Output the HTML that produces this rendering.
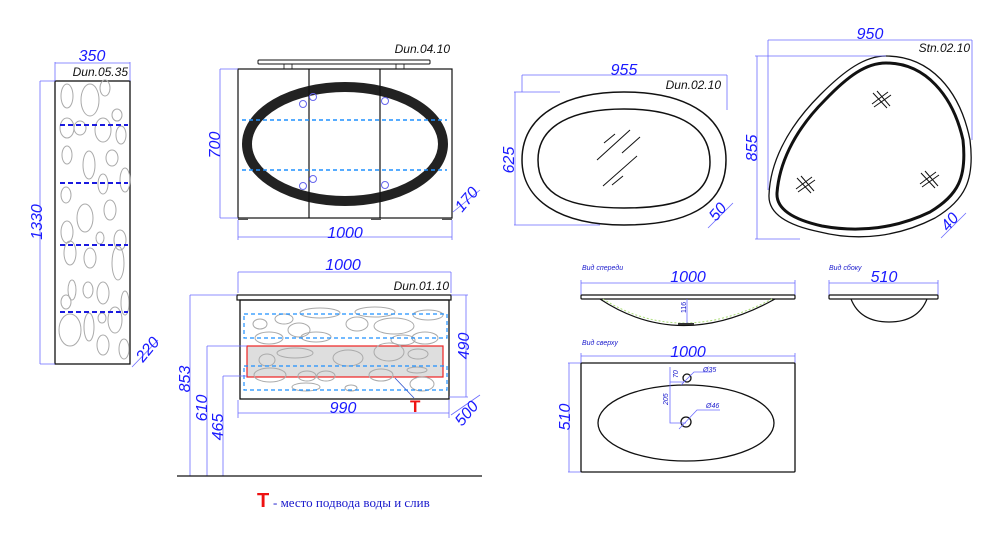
<!DOCTYPE html>
<html><head><meta charset="utf-8"><style>
body{margin:0;background:#fff}
svg{display:block}
text{font-family:"Liberation Sans",sans-serif;font-style:italic}
.d{fill:#1a1aff;font-size:16px}
.dim{stroke:#6b6bff;stroke-width:0.8;fill:none}
.k{stroke:#111;fill:none}
.lab{font-size:12px;fill:#111}
.bub{stroke:#aaa;fill:none;stroke-width:1}
</style></head><body>
<svg width="1000" height="537" viewBox="0 0 1000 537" xmlns="http://www.w3.org/2000/svg">
<!-- Tall cabinet -->
<g>
<rect x="55" y="81" width="75" height="283" class="k" stroke-width="1.3"/>
<g class="bub">
<ellipse cx="67" cy="96" rx="6" ry="12"/><ellipse cx="90" cy="100" rx="9" ry="16"/><ellipse cx="105" cy="88" rx="5" ry="8"/>
<ellipse cx="67" cy="128" rx="7" ry="10"/><ellipse cx="80" cy="128" rx="6" ry="7"/><ellipse cx="103" cy="130" rx="8" ry="12"/><ellipse cx="117" cy="115" rx="5" ry="6"/><ellipse cx="121" cy="135" rx="5" ry="9"/>
<ellipse cx="67" cy="155" rx="5" ry="9"/><ellipse cx="89" cy="165" rx="6" ry="14"/><ellipse cx="112" cy="158" rx="6" ry="8"/><ellipse cx="125" cy="180" rx="5" ry="12"/><ellipse cx="103" cy="184" rx="5" ry="10"/>
<ellipse cx="66" cy="195" rx="5" ry="8"/><ellipse cx="85" cy="218" rx="8" ry="14"/><ellipse cx="110" cy="210" rx="6" ry="10"/><ellipse cx="67" cy="232" rx="6" ry="11"/><ellipse cx="100" cy="238" rx="4" ry="6"/><ellipse cx="120" cy="240" rx="6" ry="10"/>
<ellipse cx="70" cy="253" rx="6" ry="12"/><ellipse cx="90" cy="258" rx="6" ry="10"/><ellipse cx="118" cy="263" rx="6" ry="17"/>
<ellipse cx="72" cy="290" rx="4" ry="10"/><ellipse cx="88" cy="290" rx="5" ry="8"/><ellipse cx="103" cy="293" rx="6" ry="11"/><ellipse cx="125" cy="303" rx="4" ry="12"/>
<ellipse cx="66" cy="302" rx="5" ry="7"/><ellipse cx="70" cy="330" rx="11" ry="16"/><ellipse cx="89" cy="327" rx="5" ry="14"/><ellipse cx="102" cy="318" rx="4" ry="5"/><ellipse cx="115" cy="320" rx="7" ry="13"/><ellipse cx="103" cy="345" rx="6" ry="10"/><ellipse cx="124" cy="349" rx="5" ry="10"/>
</g>
<g stroke="#1a1adf" stroke-width="2" stroke-dasharray="5,3">
<line x1="60" y1="125" x2="128" y2="125"/><line x1="60" y1="183" x2="128" y2="183"/><line x1="60" y1="245" x2="128" y2="245"/><line x1="60" y1="312" x2="128" y2="312"/>
</g>
<path class="dim" d="M55 62V81M130 62V81M55 63H130M40 81H55M40 364H55M40 81V364"/>
<text class="d" x="92" y="61" text-anchor="middle">350</text>
<text class="lab" x="128" y="76" text-anchor="end">Dun.05.35</text>
<text class="d" transform="translate(42,222) rotate(-90)" text-anchor="middle">1330</text>
<line x1="132" y1="367" x2="158" y2="340" class="dim"/>
<text class="d" transform="translate(143,363) rotate(-50)">220</text>
</g>
<!-- Mirror cabinet -->
<g>
<rect x="258" y="60" width="172" height="4" class="k" stroke-width="1" rx="1"/>
<rect x="284" y="64" width="8" height="5" class="k" stroke-width="0.8"/><rect x="396" y="64" width="8" height="5" class="k" stroke-width="0.8"/>
<rect x="238" y="69" width="214" height="149" class="k" stroke-width="1.2"/>
<ellipse cx="345" cy="144" rx="98" ry="57" fill="none" stroke="#222" stroke-width="10"/>
<line x1="309" y1="69" x2="309" y2="218" class="k" stroke-width="1.2"/><line x1="380" y1="69" x2="380" y2="218" class="k" stroke-width="1.2"/>
<g stroke="#1e90ff" stroke-width="1.5" stroke-dasharray="4,3"><line x1="242" y1="120" x2="447" y2="120"/><line x1="242" y1="170" x2="447" y2="170"/></g>
<g fill="none" stroke="#6666ee"><circle cx="303" cy="104" r="3.5"/><circle cx="313" cy="97" r="3.5"/><circle cx="385" cy="101" r="3.5"/><circle cx="303" cy="186" r="3.5"/><circle cx="313" cy="179" r="3.5"/><circle cx="385" cy="185" r="3.5"/></g>
<g fill="#555"><rect x="238" y="218" width="10" height="2"/><rect x="371" y="218" width="10" height="2"/><rect x="442" y="218" width="10" height="2"/></g>
<path class="dim" d="M220 69H238M220 218H238M220 69V218M238 220V240M452 220V240M238 237H452"/>
<text class="d" transform="translate(220,145) rotate(-90)" text-anchor="middle">700</text>
<text class="d" x="345" y="238" text-anchor="middle">1000</text>
<text class="lab" x="450" y="53" text-anchor="end">Dun.04.10</text>
<line x1="453" y1="212" x2="480" y2="190" class="dim"/>
<text class="d" transform="translate(462,213) rotate(-50)">170</text>
</g>
<!-- Vanity -->
<g>
<rect x="237" y="295" width="214" height="5" class="k" stroke-width="1.2"/>
<rect x="240" y="300" width="209" height="99" class="k" stroke-width="1.3"/>
<rect x="247" y="346" width="196" height="31" fill="#dedede" stroke="#ee2222" stroke-width="1.2"/>
<g class="bub">
<ellipse cx="260" cy="324" rx="7" ry="5"/><ellipse cx="269" cy="338" rx="14" ry="6"/><ellipse cx="284" cy="319" rx="9" ry="5"/><ellipse cx="299" cy="330" rx="11" ry="7"/><ellipse cx="316" cy="337" rx="15" ry="5"/><ellipse cx="320" cy="313" rx="20" ry="5"/><ellipse cx="357" cy="324" rx="11" ry="7"/><ellipse cx="375" cy="312" rx="20" ry="5"/><ellipse cx="394" cy="326" rx="20" ry="8"/><ellipse cx="403" cy="340" rx="12" ry="5"/><ellipse cx="428" cy="315" rx="15" ry="5"/><ellipse cx="425" cy="338" rx="13" ry="6"/>
<ellipse cx="267" cy="360" rx="8" ry="6"/><ellipse cx="295" cy="353" rx="18" ry="5"/><ellipse cx="348" cy="358" rx="15" ry="8"/><ellipse cx="389" cy="352" rx="15" ry="9"/><ellipse cx="418" cy="354" rx="10" ry="5"/>
<ellipse cx="270" cy="375" rx="16" ry="7"/><ellipse cx="307" cy="376" rx="9" ry="5"/><ellipse cx="326" cy="376" rx="9" ry="5"/><ellipse cx="381" cy="375" rx="12" ry="6"/><ellipse cx="417" cy="370" rx="10" ry="3"/><ellipse cx="306" cy="387" rx="14" ry="4"/><ellipse cx="351" cy="388" rx="6" ry="3"/><ellipse cx="422" cy="384" rx="12" ry="7"/>
</g>
<g fill="none" stroke="#1e90ff" stroke-width="1.2" stroke-dasharray="4,3"><rect x="244" y="314" width="203" height="24"/><rect x="244" y="366" width="203" height="24"/></g>
<line x1="395" y1="378" x2="414" y2="398" stroke="#3355cc" stroke-width="0.8"/>
<text x="410" y="412" fill="#ee1111" style="font-style:normal;font-weight:bold;font-size:17px">T</text>
<path class="dim" d="M238 272H451M238 272V293M451 272V293M451 295H468M449 397H468M466 295V397M238 400V418M449 400V418M238 413H449M451 415L480 395"/>
<path class="dim" d="M190 295H237M190 295V476M207 346H247M207 346V476M223 376H247M223 376V476"/>
<line x1="177" y1="476" x2="482" y2="476" stroke="#111" stroke-width="1.2"/>
<text class="d" x="343" y="270" text-anchor="middle">1000</text>
<text class="lab" x="449" y="290" text-anchor="end">Dun.01.10</text>
<text class="d" transform="translate(469,346) rotate(-90)" text-anchor="middle">490</text>
<text class="d" x="343" y="413" text-anchor="middle">990</text>
<text class="d" transform="translate(462,427) rotate(-50)">500</text>
<text class="d" transform="translate(190,379) rotate(-90)" text-anchor="middle">853</text>
<text class="d" transform="translate(207,408) rotate(-90)" text-anchor="middle">610</text>
<text class="d" transform="translate(223,427) rotate(-90)" text-anchor="middle">465</text>
<text x="257" y="507" fill="#ee1111" style="font-style:normal;font-weight:bold;font-size:20px">T</text>
<text x="273" y="507" style="font-style:normal;font-family:'Liberation Serif',serif;font-size:13px" fill="#1a1acc">- место подвода воды и слив</text>
</g>
<!-- Mirror Dun.02.10 -->
<g>
<path class="k" stroke-width="1.5" d="M624 92C680 92 726 112 726 160C726 210 680 225 624 225C560 225 522 200 522 160C522 112 570 92 624 92Z"/>
<path class="k" stroke-width="1.5" d="M624 109C670 109 710 122 710 162C710 200 670 208 624 208C570 208 538 196 538 160C538 124 575 109 624 109Z"/>
<g stroke="#111" stroke-width="1"><line x1="604" y1="143" x2="615" y2="134"/><line x1="597" y1="160" x2="630" y2="130"/><line x1="622" y1="153" x2="640" y2="137"/><line x1="603" y1="186" x2="637" y2="156"/><line x1="612" y1="185" x2="623" y2="176"/></g>
<path class="dim" d="M522 75H727M522 75V92M727 75V110M514 92H560M514 225H600M515 92V225M708 228L733 203"/>
<text class="d" x="624" y="75" text-anchor="middle">955</text>
<text class="lab" x="721" y="89" text-anchor="end">Dun.02.10</text>
<text class="d" transform="translate(514,160) rotate(-90)" text-anchor="middle">625</text>
<text class="d" transform="translate(716,222) rotate(-50)">50</text>
</g>
<!-- Stn.02.10 -->
<g>
<path class="k" stroke-width="1.3" d="M886 56C930 56 960 90 970 140C975 180 965 200 935 218C900 236 860 242 820 232C790 226 768 215 769 195C770 165 785 130 820 95C845 70 865 56 886 56Z"/>
<path class="k" stroke-width="3" d="M886 63C925 63 953 95 963 140C967 178 958 195 930 212C897 228 860 233 822 226C795 220 776 210 777 193C779 166 792 133 825 100C848 76 866 63 886 63Z"/>
<g stroke="#111" stroke-width="1"><path d="M873 93L887 108M877 91L890 106M872 104L888 92M874 107L891 95"/><path d="M797 178L811 193M801 176L814 191M796 189L812 177M798 192L815 180"/><path d="M921 173L935 188M925 171L938 186M920 184L936 172M922 187L939 175"/></g>
<path class="dim" d="M768 40H972M768 40V190M972 40V140M755 56H886M755 239H800M757 56V239M941 238L966 213"/>
<text class="d" x="870" y="39" text-anchor="middle">950</text>
<text class="lab" x="970" y="52" text-anchor="end">Stn.02.10</text>
<text class="d" transform="translate(757,148) rotate(-90)" text-anchor="middle">855</text>
<text class="d" transform="translate(948,232) rotate(-50)">40</text>
</g>
<!-- Sink views -->
<g>
<text x="582" y="270" font-size="7" fill="#1a1acc">Вид спереди</text>
<path class="dim" d="M581 283H795M581 280V295M795 280V295"/>
<text class="d" x="688" y="282" text-anchor="middle">1000</text>
<rect x="581" y="295" width="214" height="4" class="k" stroke-width="1.2" rx="1"/>
<path d="M600 299Q680 352 775 299" stroke="#111" fill="none" stroke-width="1.2"/>
<path d="M603 299Q680 347 772 299" stroke="#aadd77" fill="none" stroke-dasharray="2,2" stroke-width="1"/>
<rect x="678" y="323" width="16" height="2" fill="#333"/>
<line x1="687" y1="299" x2="687" y2="323" class="dim"/>
<text transform="translate(686,313) rotate(-90)" font-size="7" fill="#1a1acc" style="font-style:normal">116</text>
<text x="829" y="270" font-size="7" fill="#1a1acc">Вид сбоку</text>
<path class="dim" d="M829 283H938M829 280V295M938 280V295"/>
<text class="d" x="884" y="282" text-anchor="middle">510</text>
<rect x="829" y="295" width="109" height="4" class="k" stroke-width="1.2" rx="1"/>
<path d="M851 299Q860 322 889 322Q918 322 927 299" stroke="#111" fill="none" stroke-width="1.2"/>
<text x="582" y="345" font-size="7" fill="#1a1acc">Вид сверху</text>
<path class="dim" d="M581 356H795M581 353V363M795 353V363M568 363H581M568 472H581M569 363V472"/>
<text class="d" x="688" y="357" text-anchor="middle">1000</text>
<rect x="581" y="363" width="214" height="109" class="k" stroke-width="1.3" rx="1"/>
<ellipse cx="686" cy="423" rx="88" ry="38" class="k" stroke-width="1.3"/>
<circle cx="687" cy="378" r="4" class="k" stroke-width="1.3"/>
<circle cx="686" cy="422" r="5" class="k" stroke-width="1.3"/>
<path class="dim" d="M670 367V423H686M670 382H684M681 385L694 372H712M679 429L697 410H720"/>
<text x="703" y="372" font-size="7" fill="#1a1acc">Ø35</text>
<text x="706" y="408" font-size="7" fill="#1a1acc">Ø46</text>
<text transform="translate(678,378) rotate(-90)" font-size="7" fill="#1a1acc">70</text>
<text transform="translate(668,405) rotate(-90)" font-size="7" fill="#1a1acc">205</text>
<text class="d" transform="translate(570,417) rotate(-90)" text-anchor="middle">510</text>
</g>
</svg>
</body></html>
